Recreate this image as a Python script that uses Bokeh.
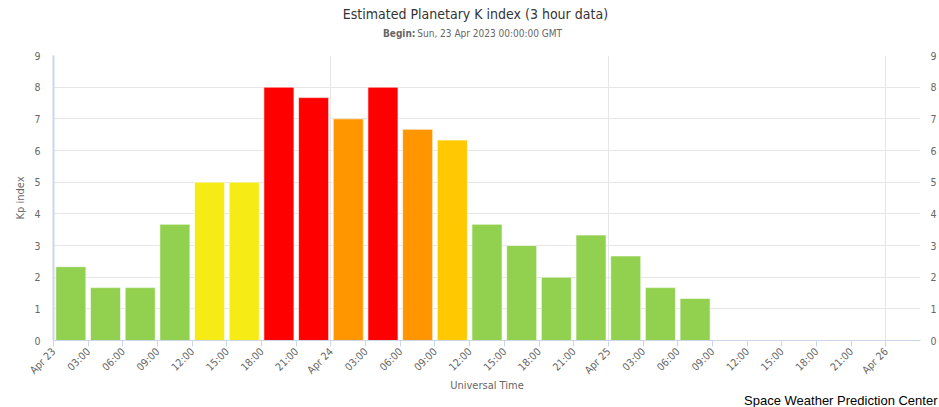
import math
from bokeh.plotting import figure
from bokeh.layouts import column
from bokeh.models import (ColumnDataSource, FixedTicker, LinearAxis, Range1d, Label, Title)
from bokeh.embed import file_html
from bokeh.resources import INLINE

# ---- data ----
start_hours = [0, 3, 6, 9, 12, 15, 18, 21, 24, 27, 30, 33, 36, 39, 42, 45, 48, 51, 54]
kp_values = [2.33, 1.67, 1.67, 3.67, 5.0, 5.0, 8.0, 7.67, 7.0, 8.0, 6.67, 6.33,
             3.67, 3.0, 2.0, 3.33, 2.67, 1.67, 1.33]
bar_colors = ["#92D050", "#92D050", "#92D050", "#92D050", "#F6EB14", "#F6EB14",
              "#FF0000", "#FF0000", "#FF9600", "#FF0000", "#FF9600", "#FFC800",
              "#92D050", "#92D050", "#92D050", "#92D050", "#92D050", "#92D050", "#92D050"]
x_tick_hours = list(range(0, 73, 3))
x_tick_labels = ["Apr 23", "03:00", "06:00", "09:00", "12:00", "15:00", "18:00", "21:00",
                 "Apr 24", "03:00", "06:00", "09:00", "12:00", "15:00", "18:00", "21:00",
                 "Apr 25", "03:00", "06:00", "09:00", "12:00", "15:00", "18:00", "21:00",
                 "Apr 26"]
day_hours = [24, 48, 72]
y_ticks = [0, 1, 2, 3, 4, 5, 6, 7, 8, 9]

title_text = "Estimated Planetary K index (3 hour data)"
subtitle_key = "Begin:"
subtitle_text = "Sun, 23 Apr 2023 00:00:00 GMT"
credit_text = "Space Weather Prediction Center"

FONT = "DejaVu Sans Condensed, sans-serif"
W = 939
HEAD_H = 46

# ---- header (title + subtitle) ----
head = figure(width=W, height=HEAD_H, output_backend="svg", toolbar_location=None,
              x_range=Range1d(0, W), y_range=Range1d(HEAD_H, 0),
              x_axis_location=None, y_axis_location=None,
              min_border=0)
head.grid.visible = False
head.outline_line_color = None
head.add_layout(Label(x=457, y=13, text=title_text, text_align="center",
                      text_baseline="middle", text_font=FONT, text_font_size="14px",
                      text_color="#333333"))
head.add_layout(Label(x=392, y=33, text=subtitle_key, text_align="right",
                      text_baseline="middle", text_font=FONT, text_font_size="10px",
                      text_font_style="bold", text_color="#666666"))
head.add_layout(Label(x=394, y=33, text=subtitle_text, text_align="left",
                      text_baseline="middle", text_font=FONT, text_font_size="10px",
                      text_color="#666666"))

# ---- main chart ----
src = ColumnDataSource(dict(
    x=[h + 1.5 for h in start_hours],
    top=kp_values,
    color=bar_colors,
))

p = figure(width=W, height=407 - HEAD_H, output_backend="svg", toolbar_location=None,
           x_range=Range1d(0, 75), y_range=Range1d(0, 9),
           min_border_left=53, min_border_right=19, min_border_top=55 - HEAD_H,
           min_border_bottom=67)
p.outline_line_color = None

p.vbar(x="x", top="top", bottom=0, width=2.6, fill_color="color",
       line_color="white", line_alpha=0.6, line_width=1, source=src)

p.ygrid.ticker = FixedTicker(ticks=y_ticks)
p.ygrid.grid_line_color = "#e6e6e6"
p.xgrid.ticker = FixedTicker(ticks=day_hours)
p.xgrid.grid_line_color = "#e6e6e6"

xa = p.xaxis[0]
xa.ticker = FixedTicker(ticks=x_tick_hours)
xa.major_label_overrides = {h: lab for h, lab in zip(x_tick_hours, x_tick_labels)}
xa.major_label_orientation = math.pi / 4
xa.major_label_text_font = FONT
xa.major_label_text_font_size = "10.5px"
xa.major_label_text_color = "#666666"
xa.axis_line_color = "#ccd6eb"
xa.major_tick_line_color = "#ccd6eb"
xa.major_tick_out = 6
xa.major_tick_in = 0
xa.minor_tick_line_color = None
xa.major_label_standoff = 3
xa.axis_label = "Universal Time"
xa.axis_label_text_font = FONT
xa.axis_label_text_font_size = "11px"
xa.axis_label_text_font_style = "normal"
xa.axis_label_text_color = "#666666"
xa.axis_label_standoff = -4

ya = p.yaxis[0]
ya.ticker = FixedTicker(ticks=y_ticks)
ya.major_label_text_font = FONT
ya.major_label_text_font_size = "10.5px"
ya.major_label_text_color = "#666666"
ya.axis_line_color = "#ccd6eb"
ya.axis_line_width = 2
ya.major_tick_line_color = None
ya.major_tick_out = 0
ya.major_tick_in = 0
ya.minor_tick_line_color = None
ya.major_label_standoff = 13
ya.axis_label = "Kp index"
ya.axis_label_text_font = FONT
ya.axis_label_text_font_size = "11px"
ya.axis_label_text_font_style = "normal"
ya.axis_label_text_color = "#666666"
ya.axis_label_standoff = 4

ra = LinearAxis(ticker=FixedTicker(ticks=y_ticks))
ra.major_label_text_font = FONT
ra.major_label_text_font_size = "10.5px"
ra.major_label_text_color = "#666666"
ra.axis_line_color = None
ra.major_tick_line_color = None
ra.major_tick_out = 0
ra.major_tick_in = 0
ra.minor_tick_line_color = None
ra.major_label_standoff = 10
p.add_layout(ra, "right")

credit = Title(text=credit_text, align="right", text_font="Liberation Sans",
               text_font_size="13px", text_font_style="normal", text_color="#000000",
               standoff=-9, offset=-17)
p.add_layout(credit, "below")

layout = column(head, p, spacing=0)
open("out.html", "w").write(file_html(layout, INLINE))
